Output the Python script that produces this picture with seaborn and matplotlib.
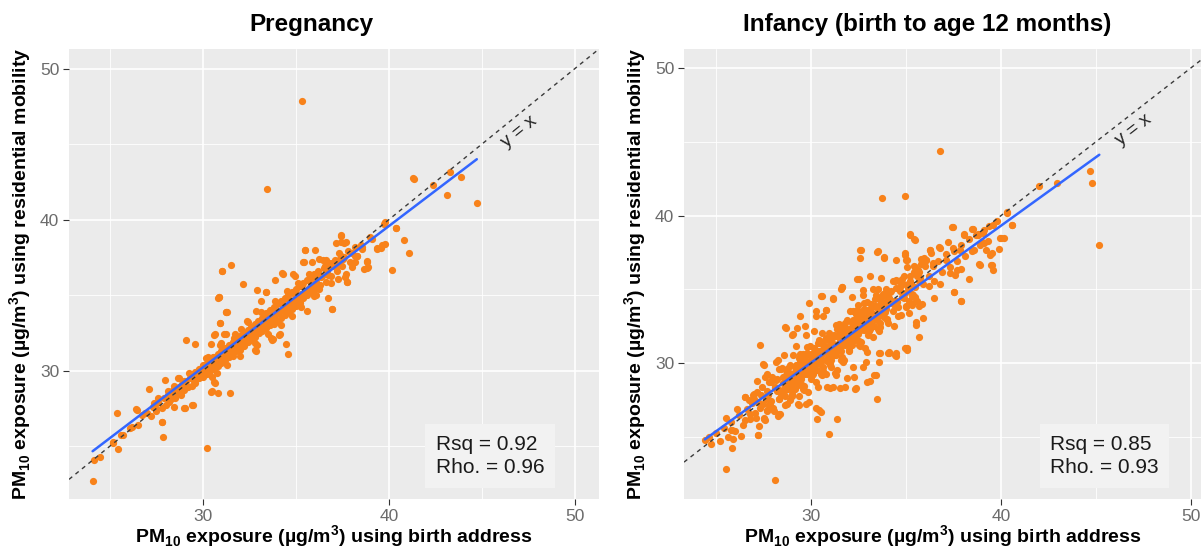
import matplotlib
matplotlib.use("Agg")
import matplotlib.pyplot as plt
import seaborn as sns
import pandas as pd

# ---------------- data ----------------
# Pregnancy panel: scattered points (x = birth address, y = residential mobility)
preg_scatter = [
    (35.34, 47.84), (33.46, 42.06), (41.34, 42.66), (43.31, 43.17), (42.39, 42.28), (43.9, 42.8),
    (43.1, 41.6), (44.73, 41.13), (39.72, 39.73), (40.37, 39.44), (40.83, 38.66), (41.07, 37.8),
    (40.18, 36.66), (39.63, 38.35), (39.35, 38.13), (38.99, 38.84), (38.84, 37.22), (38.8, 36.77),
    (38.53, 38.17), (38.2, 37.62), (38.07, 37.1), (37.42, 38.9), (37.61, 38.48), (37.18, 38.48),
    (37.75, 35.84), (36.96, 34.06), (36.72, 34.8), (35.49, 38.02), (36.04, 38.0), (35.4, 37.17),
    (35.86, 37.22), (34.84, 36.4), (34.29, 36.4), (33.87, 36.0), (32.17, 35.77), (31.53, 37.02),
    (31.03, 36.57), (32.91, 35.33), (33.37, 35.24), (30.83, 34.84), (31.25, 33.9), (30.61, 32.39),
    (29.08, 32.0), (29.6, 31.77), (30.42, 31.77), (34.57, 31.1), (34.11, 32.35), (32.82, 31.4),
    (33.74, 32.06), (30.42, 28.57), (30.83, 28.5), (31.44, 28.5), (30.64, 29.17), (29.41, 27.73),
    (29.04, 27.55), (28.67, 29.5), (27.94, 29.4), (27.11, 28.8), (26.46, 27.4), (27.81, 26.62),
    (27.84, 25.62), (25.36, 27.17), (25.41, 24.84), (30.24, 24.9), (24.07, 22.66), (24.12, 24.06),
    (24.49, 24.28), (25.17, 25.28), (25.73, 25.73), (26.19, 26.28), (26.74, 27.06), (27.38, 27.84),
    (28.21, 28.5), (25.17, 25.2), (25.62, 25.73), (27.79, 26.58), (26.42, 27.45), (26.06, 26.18),
    (26.51, 26.4), (26.86, 27.18), (27.4, 27.62), (27.58, 28.18), (28.11, 28.62), (28.47, 28.96),
    (28.47, 27.62), (29.0, 27.51), (29.45, 27.73), (28.7, 29.51), (29.0, 29.29), (29.27, 29.85),
    (29.54, 29.62), (29.8, 29.96), (29.98, 30.4), (30.16, 30.85), (30.43, 30.18), (30.61, 29.25),
    (30.48, 28.62), (30.77, 29.85), (30.91, 33.13), (31.23, 33.91), (30.84, 34.89), (30.64, 32.4),
    (31.14, 32.4), (30.93, 31.73), (31.32, 31.4), (31.68, 32.18), (32.03, 32.73), (32.39, 33.29),
    (32.83, 31.33), (32.83, 33.96), (33.1, 34.62), (33.37, 35.18), (33.64, 32.18), (33.8, 33.73),
    (41.3, 42.73), (39.79, 39.85), (40.38, 39.45), (39.57, 38.13), (39.79, 38.36), (39.34, 38.07),
    (39.07, 38.73), (38.54, 38.07), (38.81, 37.29), (38.9, 36.85), (38.68, 36.71), (38.27, 37.62),
    (38.18, 37.18), (38.0, 36.85), (37.43, 38.96), (37.43, 38.51), (37.68, 38.51), (37.65, 36.18),
    (37.77, 35.85), (37.29, 36.07), (36.93, 34.11), (35.51, 38.02), (35.42, 37.18), (36.26, 37.4),
    (36.44, 37.33), (36.58, 36.85), (36.85, 36.96), (34.97, 36.29), (34.26, 36.45), (31.05, 36.62),
    (30.84, 34.85), (31.27, 33.91), (30.93, 33.13), (31.23, 32.4), (31.59, 31.73), (34.17, 32.4),
    (34.48, 31.78), (33.76, 32.11), (32.92, 31.73), (35.6, 33.96), (35.24, 34.51), (35.95, 34.96),
    (36.22, 35.4), (34.8, 34.4), (34.26, 34.51), (34.35, 34.07),
]
# Pregnancy panel: dense band along the diagonal
preg_core = [
    (27.0, 27.2), (27.2, 27.0), (27.3, 27.6), (27.5, 27.3), (27.6, 27.9), (27.8, 27.5), (27.9, 28.2),
    (28.0, 27.7), (28.1, 28.4), (28.2, 27.9), (28.3, 28.1), (28.4, 28.7), (28.5, 28.2), (28.6, 28.5),
    (28.7, 28.9), (28.8, 28.4), (28.9, 29.1), (29.0, 28.7), (29.1, 29.3), (29.2, 28.9),
    (29.3, 29.5), (29.4, 29.0), (29.4, 29.7), (29.5, 29.3), (29.6, 29.9), (29.6, 29.4), (29.7, 29.6),
    (29.8, 30.1), (29.8, 29.5), (29.9, 29.8), (30.0, 30.3), (30.0, 29.6), (30.1, 30.0), (30.2, 30.5),
    (30.2, 29.8), (30.3, 30.2), (30.4, 30.7), (30.4, 30.0), (30.5, 30.4), (30.6, 30.9), (30.6, 30.1),
    (30.7, 30.5), (30.8, 31.1), (30.8, 30.3), (30.9, 30.7), (31.0, 31.3), (31.0, 30.5), (31.1, 30.9),
    (31.2, 31.5), (31.2, 30.7), (31.3, 31.1), (31.4, 31.7), (31.4, 30.9), (31.5, 31.3), (31.6, 31.9),
    (31.6, 31.0), (31.7, 31.5), (31.8, 32.1), (31.8, 31.3), (31.9, 31.7), (32.0, 32.3), (32.0, 31.4),
    (32.1, 31.9), (32.2, 32.5), (32.2, 31.6), (32.3, 32.1), (32.4, 32.7), (32.4, 31.9), (32.5, 32.3),
    (32.6, 32.9), (32.6, 32.0), (32.7, 32.5), (32.8, 33.1), (32.8, 32.2), (32.9, 32.7), (33.0, 33.3),
    (33.0, 32.5), (33.1, 32.9), (33.2, 33.5), (33.2, 32.6), (33.3, 33.1), (33.4, 33.8), (33.4, 32.8),
    (33.5, 33.3), (33.6, 34.0), (33.6, 33.0), (33.7, 33.5), (33.8, 34.2), (33.8, 33.1), (33.9, 33.7),
    (34.0, 34.4), (34.0, 33.3), (34.1, 33.9), (34.2, 34.6), (34.2, 33.5), (34.3, 34.1), (34.4, 34.8),
    (34.4, 33.7), (34.5, 34.3), (34.6, 35.0), (34.6, 33.9), (34.7, 34.5), (34.8, 35.2), (34.8, 34.1),
    (34.9, 34.7), (35.0, 35.4), (35.0, 34.3), (35.1, 34.9), (35.2, 35.6), (35.2, 34.6), (35.3, 35.1),
    (35.4, 35.8), (35.4, 34.8), (35.5, 35.3), (35.6, 36.0), (35.6, 35.0), (35.7, 35.5), (35.8, 36.2),
    (35.8, 35.2), (35.9, 35.7), (36.0, 36.4), (36.0, 35.4), (36.1, 35.9), (36.2, 36.6), (36.3, 35.7),
    (36.4, 36.3), (36.5, 36.8), (36.6, 35.9), (36.7, 36.6), (36.8, 37.1), (36.9, 36.3), (37.0, 36.9),
    (37.1, 37.3), (37.2, 36.6), (37.3, 37.2), (37.4, 37.6), (37.5, 36.9), (37.6, 37.5), (37.8, 37.9),
    (37.9, 37.2), (38.0, 37.8), (38.2, 38.2), (38.3, 37.6), (38.5, 38.3),
    (30.3, 30.9), (30.5, 29.6), (31.0, 31.8), (31.3, 30.4), (31.7, 32.4), (32.0, 31.0), (32.4, 33.2),
    (32.8, 31.8), (33.1, 33.9), (33.5, 32.4), (33.9, 34.6), (34.2, 33.0), (34.5, 35.3), (34.8, 33.6),
    (35.1, 35.8), (35.3, 34.2), (35.7, 36.4), (36.1, 35.0), (36.6, 37.3), (36.9, 35.8), (37.3, 37.8),
    (37.7, 36.4),
    (28.55, 28.75), (28.75, 28.45), (28.95, 29.0), (29.15, 29.0), (29.35, 29.7), (29.55, 29.15),
    (29.75, 29.95), (29.95, 29.65), (30.15, 30.2), (30.35, 30.2), (30.55, 30.9), (30.75, 30.35),
    (30.95, 31.15), (31.15, 30.85), (31.35, 31.4), (31.55, 31.4), (31.75, 32.1), (31.95, 31.55),
    (32.15, 32.35), (32.35, 32.05), (32.55, 32.6), (32.75, 32.6), (32.95, 33.3), (33.15, 32.75),
    (33.35, 33.55), (33.55, 33.25), (33.75, 33.8), (33.95, 33.8), (34.15, 34.5), (34.35, 33.95),
    (34.55, 34.75), (34.75, 34.45), (34.95, 35.0), (35.15, 35.0), (35.35, 35.7), (35.55, 35.15),
    (35.75, 35.95), (35.95, 35.65), (36.15, 36.2), (36.35, 36.2), (36.55, 36.9), (36.75, 36.35),
    (36.95, 37.15), (37.15, 36.85), (37.35, 37.4), (37.55, 37.4),
]

# Infancy panel: scattered points
inf_scatter = [
    (36.79, 44.39), (33.75, 41.22), (34.97, 41.33), (44.7, 43.03), (44.82, 42.24), (45.19, 38.0),
    (42.02, 42.01), (42.97, 42.2), (40.3, 40.2), (40.6, 39.36), (39.97, 38.5), (40.15, 38.5),
    (39.79, 39.63), (39.88, 37.75), (39.51, 36.68), (39.6, 36.34), (39.42, 37.36), (39.11, 38.16),
    (38.79, 38.72), (39.06, 38.84), (38.51, 39.11), (38.88, 36.68), (38.33, 35.71), (38.06, 38.72),
    (37.84, 37.7), (37.48, 39.22), (37.55, 37.59), (37.7, 36.34), (37.51, 34.8), (37.88, 34.19),
    (35.22, 38.66), (35.48, 38.38), (32.57, 37.7), (32.57, 37.14), (33.48, 37.55), (33.84, 37.14),
    (34.97, 37.48), (35.0, 37.02), (36.24, 37.66), (36.75, 37.88), (36.06, 37.02), (32.51, 35.71),
    (31.6, 35.03), (30.55, 34.57), (29.88, 34.08), (29.42, 33.17), (28.6, 32.49), (29.06, 31.99),
    (27.33, 31.24), (27.48, 29.93), (28.24, 30.22), (26.51, 27.73), (26.97, 27.95), (27.7, 26.82),
    (28.33, 26.59), (27.2, 25.12), (27.51, 26.25), (25.79, 25.46), (25.82, 24.28), (25.51, 22.85),
    (28.11, 22.1), (24.61, 25.0), (30.33, 26.25), (30.93, 25.19), (31.39, 26.19), (33.48, 27.55),
    (32.33, 28.25), (32.97, 28.75), (31.51, 28.34), (30.97, 28.34), (31.88, 28.97), (33.42, 29.2),
    (34.06, 30.67), (34.46, 30.49), (34.97, 31.01), (35.06, 30.9), (33.6, 30.67), (32.97, 30.79),
    (35.51, 32.6), (35.88, 33.06), (35.33, 33.96), (29.37, 27.16), (29.91, 27.39), (30.42, 26.82),
    (29.37, 27.77), (28.33, 27.55), (28.6, 28.29),
    (30.28, 33.52), (30.8, 33.63), (30.54, 34.58), (31.15, 34.35), (31.64, 35.17), (28.7, 32.38),
    (29.23, 32.38), (29.67, 32.5), (29.75, 31.93), (30.14, 32.2), (30.24, 33.18), (30.63, 33.18),
    (28.97, 31.93), (28.58, 30.57), (29.19, 31.18), (29.58, 30.64), (28.14, 30.11), (27.51, 29.89),
    (27.69, 29.28), (27.13, 28.82), (26.52, 27.73), (26.95, 27.85), (26.52, 26.15), (26.78, 26.55),
    (25.82, 25.47), (27.22, 25.13), (27.57, 26.15), (28.27, 26.42), (30.24, 26.94), (30.54, 26.71),
    (29.32, 27.21), (29.75, 27.24), (28.91, 27.51), (30.37, 28.37), (30.84, 28.37), (31.15, 28.37),
    (31.29, 29.21), (31.77, 28.41), (32.26, 29.05), (32.38, 28.3), (33.08, 28.82), (32.76, 29.73),
    (33.6, 30.11), (34.09, 30.73), (34.44, 30.57), (35.0, 31.02), (32.2, 33.52), (32.47, 33.97),
    (32.73, 34.99),
    (35.22, 38.73), (35.44, 38.39), (37.42, 39.25), (38.07, 38.77), (38.47, 39.07), (38.77, 38.73),
    (39.38, 39.3), (40.0, 38.5), (40.57, 39.34), (40.34, 40.25), (39.03, 38.21), (39.21, 37.71),
    (38.59, 37.71), (39.52, 37.44), (39.47, 36.69), (38.86, 36.73), (37.89, 36.39), (37.54, 34.81),
    (37.89, 34.24), (37.32, 36.12), (36.79, 37.82), (36.27, 37.71), (36.06, 37.03), (36.41, 36.8),
    (37.11, 37.03), (32.64, 37.71), (33.52, 37.6), (33.82, 37.21), (34.48, 37.03), (34.97, 37.37),
    (35.04, 37.03), (32.42, 35.71), (31.65, 35.17), (31.16, 34.42), (30.81, 33.63), (33.08, 35.89),
    (33.69, 35.78), (33.26, 35.0), (32.73, 34.65), (32.17, 34.49), (35.53, 32.77), (35.71, 31.81),
    (35.04, 31.02), (34.13, 30.72), (34.48, 30.68), (33.61, 30.72), (32.91, 30.11), (33.34, 29.2),
    (32.21, 29.77), (31.68, 30.11), (31.24, 29.32), (30.81, 29.27), (36.23, 35.21), (36.49, 34.42),
    (35.71, 33.85), (35.18, 33.4),
    (24.4, 24.8), (24.7, 24.5), (25.0, 25.3), (25.2, 24.7), (25.4, 25.6), (25.6, 25.0), (25.8, 26.0),
    (26.0, 25.4), (26.2, 26.5), (26.4, 25.8), (26.6, 26.9), (26.8, 26.2), (26.9, 27.3), (25.5, 26.3),
    (26.1, 26.9), (26.3, 25.1), (26.7, 27.5), (25.9, 24.9),
    (36.2, 35.9), (36.4, 36.6), (36.5, 35.6), (36.7, 36.9), (36.9, 36.2), (37.1, 37.4), (37.3, 36.5),
    (37.5, 37.8), (37.7, 36.9), (37.9, 38.0), (38.1, 37.3), (38.3, 38.4), (38.5, 37.6), (38.7, 38.7),
    (38.9, 38.0), (39.1, 39.0), (39.3, 38.3), (39.6, 39.4), (36.3, 37.5), (36.8, 35.4), (37.2, 38.2),
    (37.6, 36.0),
]
# Infancy panel: dense blob along the diagonal
inf_core = [
    (27.0, 27.6), (27.1, 26.3), (27.2, 27.4), (27.3, 27.0), (27.4, 28.4), (27.5, 26.3), (27.6, 27.6),
    (27.7, 28.1), (27.8, 27.2), (27.9, 28.7), (28.0, 27.0), (28.1, 28.4), (28.2, 28.1), (28.3, 29.6),
    (28.4, 27.9), (28.5, 29.1), (28.6, 27.8), (28.7, 28.9), (28.8, 28.5), (28.9, 29.9), (29.0, 27.8),
    (29.1, 29.1), (29.2, 29.6), (29.3, 28.7), (29.4, 30.2), (29.5, 28.5), (29.6, 29.9), (29.7, 29.6),
    (29.8, 31.1), (29.9, 29.4), (30.0, 30.6), (30.1, 29.3), (30.2, 30.4), (30.3, 30.0), (30.4, 31.4),
    (30.5, 29.3), (30.6, 30.6), (30.7, 31.1), (30.8, 30.2), (30.9, 31.7), (31.0, 30.0), (31.1, 31.4),
    (31.2, 31.1), (31.3, 32.6), (31.4, 30.9), (31.5, 32.1), (31.6, 30.8), (31.7, 31.9), (31.8, 31.5),
    (31.9, 32.9), (32.0, 30.8), (32.1, 32.1), (32.2, 32.6), (32.3, 31.7), (32.4, 33.2), (32.5, 31.5),
    (32.6, 32.9), (32.7, 32.6), (32.8, 34.1), (32.9, 32.4), (33.0, 33.6), (33.1, 32.3), (33.2, 33.4),
    (33.3, 33.0), (33.4, 34.4), (33.5, 32.3), (33.6, 33.6), (33.7, 34.1), (33.8, 33.2), (33.9, 34.7),
    (34.0, 33.0), (34.1, 34.4), (34.2, 34.1), (34.3, 35.6), (34.4, 33.9), (34.5, 35.1), (34.6, 33.8),
    (34.7, 34.9), (34.8, 34.5), (34.9, 35.9), (35.0, 33.8), (35.1, 35.1), (35.2, 35.6), (35.3, 34.7),
    (35.4, 36.2), (35.5, 34.5), (35.6, 35.9), (35.7, 35.6), (35.8, 37.1), (35.9, 35.4), (36.0, 36.6),
    (27.05, 26.65), (27.15, 28.05), (27.25, 25.75), (27.35, 27.85), (27.45, 27.25), (27.55, 29.05),
    (27.65, 26.75), (27.75, 27.85), (27.85, 27.15), (27.95, 29.05), (28.05, 26.75), (28.15, 28.85),
    (28.25, 28.25), (28.35, 26.55), (28.45, 29.65), (28.55, 28.15), (28.65, 29.55), (28.75, 27.25),
    (28.85, 29.35), (28.95, 28.75), (29.05, 30.55), (29.15, 28.25), (29.25, 29.35), (29.35, 28.65),
    (29.45, 30.55), (29.55, 28.25), (29.65, 30.35), (29.75, 29.75), (29.85, 28.05), (29.95, 31.15),
    (30.05, 29.65), (30.15, 31.05), (30.25, 28.75), (30.35, 30.85), (30.45, 30.25), (30.55, 32.05),
    (30.65, 29.75), (30.75, 30.85), (30.85, 30.15), (30.95, 32.05), (31.05, 29.75), (31.15, 31.85),
    (31.25, 31.25), (31.35, 29.55), (31.45, 32.65), (31.55, 31.15), (31.65, 32.55), (31.75, 30.25),
    (31.85, 32.35), (31.95, 31.75), (32.05, 33.55), (32.15, 31.25), (32.25, 32.35), (32.35, 31.65),
    (32.45, 33.55), (32.55, 31.25), (32.65, 33.35), (32.75, 32.75), (32.85, 31.05), (32.95, 34.15),
    (33.05, 32.65), (33.15, 34.05), (33.25, 31.75), (33.35, 33.85), (33.45, 33.25), (33.55, 35.05),
    (33.65, 32.75), (33.75, 33.85), (33.85, 33.15), (33.95, 35.05), (34.05, 32.75), (34.15, 34.85),
    (34.25, 34.25), (34.35, 32.55), (34.45, 35.65), (34.55, 34.15), (34.65, 35.55), (34.75, 33.25),
    (34.85, 35.35), (34.95, 34.75), (35.05, 36.55), (35.15, 34.25), (35.25, 35.35), (35.35, 34.65),
    (35.45, 36.55), (35.55, 34.25), (35.65, 36.35), (35.75, 35.75), (35.85, 34.05), (35.95, 37.15),
    (28.5, 28.65), (28.6, 28.25), (28.7, 29.15), (28.8, 28.25), (28.9, 28.95), (29.0, 29.3),
    (29.1, 28.9), (29.2, 28.55), (29.3, 29.85), (29.4, 29.3), (29.5, 29.65), (29.6, 29.25),
    (29.7, 30.15), (29.8, 29.25), (29.9, 29.95), (30.0, 30.3), (30.1, 29.9), (30.2, 29.55),
    (30.3, 30.85), (30.4, 30.3), (30.5, 30.65), (30.6, 30.25), (30.7, 31.15), (30.8, 30.25),
    (30.9, 30.95), (31.0, 31.3), (31.1, 30.9), (31.2, 30.55), (31.3, 31.85), (31.4, 31.3),
    (31.5, 31.65), (31.6, 31.25), (31.7, 32.15), (31.8, 31.25), (31.9, 31.95), (32.0, 32.3),
    (32.1, 31.9), (32.2, 31.55), (32.3, 32.85), (32.4, 32.3), (32.5, 32.65), (32.6, 32.25),
    (32.7, 33.15), (32.8, 32.25), (32.9, 32.95), (33.0, 33.3), (33.1, 32.9), (33.2, 32.55),
    (33.3, 33.85), (33.4, 33.3), (33.5, 33.65), (33.6, 33.25), (33.7, 34.15), (33.8, 33.25),
    (33.9, 33.95), (34.0, 34.3),
    (27.8, 28.7), (27.9, 27.45), (28.0, 26.9), (28.1, 28.35), (28.2, 28.9), (28.3, 27.55),
    (28.4, 29.6), (28.5, 28.2), (28.6, 27.2), (28.7, 29.2), (28.8, 29.7), (28.9, 28.45),
    (29.0, 27.9), (29.1, 29.35), (29.2, 29.9), (29.3, 28.55), (29.4, 30.6), (29.5, 29.2),
    (29.6, 28.2), (29.7, 30.2), (29.8, 30.7), (29.9, 29.45), (30.0, 28.9), (30.1, 30.35),
    (30.2, 30.9), (30.3, 29.55), (30.4, 31.6), (30.5, 30.2), (30.6, 29.2), (30.7, 31.2),
    (30.8, 31.7), (30.9, 30.45), (31.0, 29.9), (31.1, 31.35), (31.2, 31.9), (31.3, 30.55),
    (31.4, 32.6), (31.5, 31.2), (31.6, 30.2), (31.7, 32.2), (31.8, 32.7), (31.9, 31.45),
    (32.0, 30.9), (32.1, 32.35), (32.2, 32.9), (32.3, 31.55), (32.4, 33.6), (32.5, 32.2),
    (32.6, 31.2), (32.7, 33.2), (32.8, 33.7), (32.9, 32.45), (33.0, 31.9), (33.1, 33.35),
    (33.2, 33.9), (33.3, 32.55), (33.4, 34.6), (33.5, 33.2), (33.6, 32.2), (33.7, 34.2),
    (33.8, 34.7), (33.9, 33.45), (34.0, 32.9), (34.1, 34.35), (34.2, 34.9), (34.3, 33.55),
    (34.4, 35.6), (34.5, 34.2), (34.6, 33.2), (34.7, 35.2), (34.8, 35.7), (34.9, 34.45),
    (35.0, 33.9), (35.1, 35.35), (35.2, 35.9), (35.3, 34.55), (35.4, 36.6), (35.5, 35.2),
    (35.6, 34.2), (35.7, 36.2), (35.8, 36.7),
    (29.05, 28.2), (29.15, 29.75), (29.25, 29.1), (29.35, 30.35), (29.45, 28.95), (29.55, 29.9),
    (29.65, 28.45), (29.75, 30.55), (29.85, 29.85), (29.95, 29.65), (30.05, 29.2), (30.15, 30.75),
    (30.25, 30.1), (30.35, 31.35), (30.45, 29.95), (30.55, 30.9), (30.65, 29.45), (30.75, 31.55),
    (30.85, 30.85), (30.95, 30.65), (31.05, 30.2), (31.15, 31.75), (31.25, 31.1), (31.35, 32.35),
    (31.45, 30.95), (31.55, 31.9), (31.65, 30.45), (31.75, 32.55), (31.85, 31.85), (31.95, 31.65),
    (32.05, 31.2), (32.15, 32.75), (32.25, 32.1), (32.35, 33.35), (32.45, 31.95), (32.55, 32.9),
    (32.65, 31.45), (32.75, 33.55), (32.85, 32.85), (32.95, 32.65), (33.05, 32.2), (33.15, 33.75),
    (33.25, 33.1), (33.35, 34.35), (33.45, 32.95), (33.55, 33.9), (33.65, 32.45), (33.75, 34.55),
    (33.85, 33.85), (33.95, 33.65),
]

titles = ["Pregnancy", "Infancy (birth to age 12 months)"]
rsq_values = ["0.92", "0.85"]
rho_values = ["0.96", "0.93"]
major_ticks = [30, 40, 50]
minor_ticks = [25, 35, 45]

# ---------------- style ----------------
sns.set_theme(style="darkgrid")
plt.rcParams["font.family"] = ["Liberation Sans", "DejaVu Sans"]
plt.rcParams["mathtext.fontset"] = "custom"
plt.rcParams["mathtext.rm"] = "Liberation Sans"
plt.rcParams["mathtext.bf"] = "Liberation Sans:bold"

ORANGE = "#F8821A"
BLUE = "#3366FF"

fig = plt.figure(figsize=(12.03, 5.51), dpi=100)
W, H = 1203, 551
ax1 = fig.add_axes([69 / W, 1 - 499 / H, 530 / W, 450 / H])
ax2 = fig.add_axes([684 / W, 1 - 499 / H, 517 / W, 450 / H])

xlabel = r"PM$_{\mathbf{10}}$ exposure (µg/m$^{\mathbf{3}}$) using birth address"
ylabel = r"PM$_{\mathbf{10}}$ exposure (µg/m$^{\mathbf{3}}$) using residential mobility"


def panel(ax, pts, xlim, ylim, rsq, rho, box_x):
    df = pd.DataFrame(pts, columns=["x", "y"])
    ax.set_facecolor("#EBEBEB")
    ax.set_xlim(*xlim)
    ax.set_ylim(*ylim)
    ax.set_xticks(major_ticks)
    ax.set_yticks(major_ticks)
    ax.set_xticks(minor_ticks, minor=True)
    ax.set_yticks(minor_ticks, minor=True)
    ax.grid(which="major", color="white", lw=1.2)
    ax.grid(which="minor", color="white", lw=0.6)
    ax.set_axisbelow(True)
    for s in ax.spines.values():
        s.set_visible(False)
    sns.scatterplot(data=df, x="x", y="y", ax=ax, color=ORANGE, s=27,
                    linewidth=0, zorder=2, legend=False)
    sns.regplot(data=df, x="x", y="y", ax=ax, scatter=False, ci=None,
                color=BLUE, line_kws=dict(lw=1.8, zorder=3))
    ax.axline((30, 30), slope=1, color="#3A3A3A", lw=1.0, ls=(0, (3, 3)), zorder=4)
    ax.text(47, 45.8, "y = x", rotation=45, transform_rotates_text=True,
            rotation_mode="anchor", ha="center", va="center", fontsize=13.5,
            color="#262626", zorder=5)
    ax.text(box_x, 0.0956, f"Rsq = {rsq}\nRho. = {rho}", transform=ax.transAxes,
            fontsize=15, ha="left", va="center", linespacing=1.3, color="#1A1A1A",
            bbox=dict(boxstyle="square,pad=0.5", fc="#F2F2F2", ec="none"), zorder=6)
    ax.tick_params(which="major", length=4, width=0.8, color="#333333",
                   labelcolor="#6B6B6B", labelsize=12.5, pad=3)
    ax.tick_params(which="minor", length=0)
    ax.tick_params(axis="x", which="major", bottom=True)
    ax.tick_params(axis="y", which="major", left=True)
    ax.set_xlabel(xlabel, fontsize=14, fontweight="bold", color="black", labelpad=0)
    ax.set_ylabel(ylabel, fontsize=14, fontweight="bold", color="black", labelpad=4)


panel(ax1, preg_scatter + preg_core, (22.8, 51.3), (21.5, 51.3), rsq_values[0], rho_values[0], 0.692)
panel(ax2, inf_scatter + inf_core, (23.3, 50.55), (20.8, 51.3), rsq_values[1], rho_values[1], 0.708)

fig.text(311 / W, 1 - 24 / H, titles[0], fontsize=17.5, fontweight="bold", ha="center",
         va="center", color="black")
fig.text(927 / W, 1 - 24 / H, titles[1], fontsize=17.5, fontweight="bold", ha="center",
         va="center", color="black")

fig.savefig("out.png", dpi=100)
